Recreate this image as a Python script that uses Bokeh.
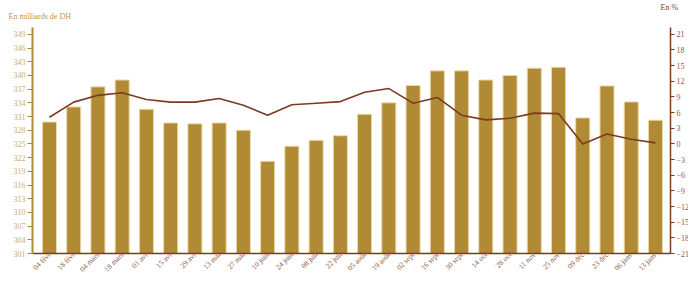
from bokeh.plotting import figure
from bokeh.models import Range1d, LinearAxis, FixedTicker, Legend, LegendItem, Label, Title
from bokeh.embed import file_html
from bokeh.resources import INLINE
import math

dates = ["04 févr", "18 févr", "04 mars", "18 mars", "01 avr", "15 avr", "29 avr",
         "13 mai", "27 mai", "10 juin", "24 juin", "08 juil", "22 juil", "05 août",
         "19 août", "02 sept", "16 sept", "30 sept", "14 oct", "28 oct", "11 nov",
         "25 nov", "09 déc", "23 déc", "06 janv", "13 janv"]
encours = [329.8, 333.1, 337.5, 339.0, 332.6, 329.6, 329.4, 329.6, 328.0, 321.2,
           324.5, 325.8, 326.8, 331.5, 334.0, 337.8, 341.0, 341.0, 339.0, 340.0,
           341.6, 341.8, 330.7, 337.7, 334.2, 330.2]
evolution = [5.1, 8.0, 9.3, 9.8, 8.5, 8.0, 8.0, 8.7, 7.4, 5.5, 7.5, 7.8, 8.1, 9.9,
             10.6, 7.8, 8.9, 5.5, 4.6, 4.9, 5.9, 5.8, 0.0, 1.9, 0.9, 0.2]
left_ticks = list(range(301, 350, 3))
right_ticks = list(range(-21, 22, 3))

GOLD = "#B08A34"
BROWN = "#7A3B20"
FONT = "Liberation Serif"

x = list(range(len(dates)))

p = figure(frame_width=638, frame_height=226, output_backend="svg", toolbar_location=None,
           x_range=Range1d(-0.7, len(dates) - 1 + 0.62),
           y_range=Range1d(301, 350.5),
           min_border_left=32, min_border_right=18, min_border_top=27, min_border_bottom=0)
p.extra_y_ranges = {"pct": Range1d(-21, 22.3)}
p.outline_line_color = None
p.xgrid.grid_line_color = None
p.ygrid.grid_line_color = None
p.background_fill_color = "white"
p.border_fill_color = "white"

bars = p.vbar(x=x, top=encours, bottom=301, width=0.58, fill_color=GOLD,
              line_color="#E9DBA9", line_width=1)
ln = p.line(x=x, y=evolution, y_range_name="pct", line_color=BROWN, line_width=1.6)

# left axis
ya = p.yaxis[0]
ya.ticker = FixedTicker(ticks=left_ticks)
ya.axis_line_color = GOLD
ya.axis_line_width = 2
ya.major_tick_line_color = GOLD
ya.major_tick_out = 5
ya.major_tick_in = 0
ya.minor_tick_line_color = None
ya.major_label_text_color = "#C5AE72"
ya.major_label_text_font = FONT
ya.major_label_text_font_size = "8px"
ya.major_label_standoff = 2

# right axis
ra = LinearAxis(y_range_name="pct", ticker=FixedTicker(ticks=right_ticks))
ra.axis_line_color = BROWN
ra.axis_line_width = 1.5
ra.major_tick_line_color = BROWN
ra.major_tick_out = 4
ra.major_tick_in = 0
ra.minor_tick_line_color = None
ra.major_label_text_color = "#8A5A48"
ra.major_label_text_font = FONT
ra.major_label_text_font_size = "8px"
ra.major_label_standoff = 2
p.add_layout(ra, "right")

# x axis
xa = p.xaxis[0]
xa.ticker = FixedTicker(ticks=x)
xa.major_label_overrides = {i: d for i, d in enumerate(dates)}
xa.major_label_orientation = math.pi / 4
xa.axis_line_color = BROWN
xa.axis_line_width = 1.5
xa.major_tick_line_color = None
xa.major_tick_out = 0
xa.major_tick_in = 0
xa.minor_tick_line_color = None
xa.minor_tick_out = 0
xa.minor_tick_in = 0
xa.major_label_text_color = "#8A5A48"
xa.major_label_text_font = FONT
xa.major_label_text_font_size = "7.5px"
xa.major_label_standoff = 0

legend = Legend(items=[LegendItem(label="Encours des AOR", renderers=[bars]),
                       LegendItem(label="Evolution annuelle des AOR", renderers=[ln])],
                orientation="horizontal", location="top_center",
                label_text_font=FONT, label_text_font_size="10px",
                label_text_color="#333333", glyph_width=11, glyph_height=9,
                label_height=9, label_standoff=4, spacing=14, border_line_color=None,
                background_fill_alpha=0, padding=0, margin=0)
p.add_layout(legend, "below")

# invisible spacer title keeps the top panel geometry fixed
p.add_layout(Title(text="En %", align="right", text_font=FONT, text_font_size="8px",
                   text_font_style="normal", text_color=BROWN, text_alpha=0,
                   offset=-9, standoff=8), "above")
p.add_layout(Label(x=-24, y=7, x_units="screen", y_units="screen",
                   text="En milliards de DH", text_font=FONT, text_font_size="8px",
                   text_color="#B8964A"), "above")
p.add_layout(Label(x=628, y=7, x_units="screen", y_units="screen",
                   text="En %", text_font=FONT, text_font_size="8px",
                   text_color=BROWN), "above")

open("out.html", "w").write(file_html(p, INLINE))
